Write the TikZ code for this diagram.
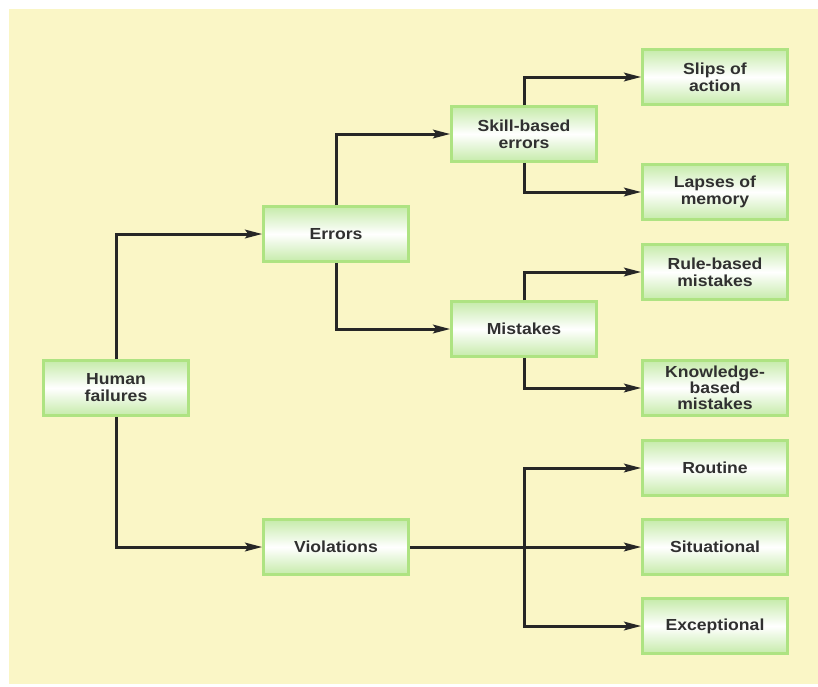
\documentclass[tikz,border=0pt]{standalone}
\usepackage{fontspec}
\newfontfamily\boxfont[FakeStretch=1.1]{Liberation Sans}
\usetikzlibrary{arrows.meta}
\definecolor{cream}{HTML}{FAF6C6}
\definecolor{boxgreen}{HTML}{AEE382}
\definecolor{shadegreen}{HTML}{C6EBAA}
\definecolor{linecol}{HTML}{262626}
\definecolor{txt}{HTML}{303030}
\begin{document}
\begin{tikzpicture}[x=1pt,y=-1pt,
  box/.style={draw=boxgreen, line width=2.5pt, top color=shadegreen, bottom color=shadegreen, middle color=white,
    minimum width=145pt, minimum height=55pt, align=center, inner sep=0pt, text=txt,
    font=\boxfont\bfseries\fontsize{16}{17}\selectfont},
  conn/.style={draw=linecol, line width=3pt, -{Stealth[length=17pt,width=8.5pt,inset=3pt]}}]
\useasboundingbox (0,0) rectangle (818,686);
\fill[white] (0,0) rectangle (818,686);
\fill[cream] (9,9) rectangle (818,684);

\node[box] (hf) at (116,388) {Human\\failures};
\node[box] (err) at (336,234) {Errors};
\node[box] (vio) at (336,547) {Violations};
\node[box] (skill) at (524,134) {Skill-based\\errors};
\node[box] (mist) at (524,329) {Mistakes};
\node[box] (slips) at (715,77) {Slips of\\action};
\node[box] (lapses) at (715,192) {Lapses of\\memory};
\node[box] (rule) at (715,272) {Rule-based\\mistakes};
\node[box, font=\boxfont\bfseries\fontsize{16}{16}\selectfont] (know) at (715,388) {Knowledge-\\based\\mistakes};
\node[box] (rout) at (715,468) {Routine};
\node[box] (sit) at (715,547) {Situational};
\node[box] (exc) at (715,626) {Exceptional};

\coordinate (j) at (524,547);

\draw[conn] (hf.north) |- (err.west);
\draw[conn] (hf.south) |- (vio.west);
\draw[conn] (err.north) |- (skill.west);
\draw[conn] (err.south) |- (mist.west);
\draw[conn] (skill.north) |- (slips.west);
\draw[conn] (skill.south) |- (lapses.west);
\draw[conn] (mist.north) |- (rule.west);
\draw[conn] (mist.south) |- (know.west);
\draw[conn] (vio.east) -- (sit.west);
\draw[conn] (j) |- (rout.west);
\draw[conn] (j) |- (exc.west);
\end{tikzpicture}
\end{document}
